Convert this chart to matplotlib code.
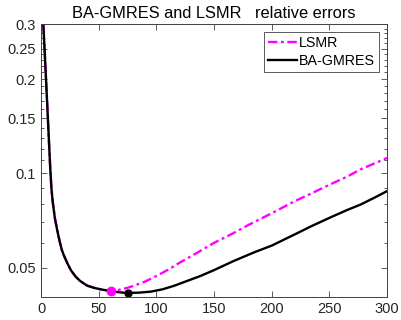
import numpy as np
import matplotlib
matplotlib.use('Agg')
import matplotlib.pyplot as plt
from matplotlib.ticker import FixedLocator, FixedFormatter, NullFormatter

plt.rcParams['font.family'] = ['Liberation Sans', 'DejaVu Sans']

# BA-GMRES relative error
gm_it = [2, 3, 4, 5, 6, 7, 8, 9, 10, 12, 14, 16, 18, 20, 23, 26, 30, 34, 40, 46,
         52, 60, 68, 75, 85, 95, 105, 115, 125, 138, 150, 167, 185, 200, 219,
         235, 250, 265, 277, 290, 300]
gm_err = [0.300, 0.253, 0.212, 0.178, 0.149, 0.124, 0.104, 0.090, 0.082, 0.072,
          0.066, 0.061, 0.057, 0.0545, 0.0515, 0.049, 0.0468, 0.0453, 0.0438,
          0.0431, 0.0426, 0.0421, 0.0417, 0.0415, 0.0416, 0.0419, 0.0426,
          0.0437, 0.0451, 0.0470, 0.0491, 0.0525, 0.0560, 0.0588, 0.0636,
          0.0680, 0.0721, 0.0763, 0.0795, 0.0840, 0.0878]

# LSMR relative error
ls_it = [2, 3, 4, 5, 6, 7, 8, 9, 10, 12, 14, 16, 18, 20, 23, 26, 30, 34, 40, 46,
         52, 56, 61, 68, 74, 80, 90, 100, 110, 120, 138, 150, 167, 180, 200,
         219, 235, 250, 265, 277, 290, 300]
ls_err = [0.300, 0.253, 0.212, 0.178, 0.149, 0.124, 0.104, 0.090, 0.082, 0.072,
          0.066, 0.061, 0.057, 0.0545, 0.0515, 0.049, 0.0468, 0.0453, 0.0438,
          0.0431, 0.0426, 0.0424, 0.0422, 0.0425, 0.0430, 0.0437, 0.0451,
          0.0470, 0.0492, 0.0518, 0.0565, 0.0600, 0.0645, 0.0685, 0.0746,
          0.0812, 0.0865, 0.0920, 0.0975, 0.1030, 0.1080, 0.1120]

yticks = [0.05, 0.1, 0.15, 0.2, 0.25, 0.3]
ytick_labels = ['0.05', '0.1', '0.15', '0.2', '0.25', '0.3']

fig = plt.figure(figsize=(4.02, 3.2), dpi=100)
ax = fig.add_axes([0.102, 0.072, 0.861, 0.853])

ax.plot(ls_it, ls_err, color='magenta', lw=1.7, linestyle=(0, (4, 1.5, 1.2, 1.5)),
        label='LSMR')
ax.plot(gm_it, gm_err, color='black', lw=1.7, label='BA-GMRES')

i = int(np.argmin(ls_err))
ax.plot(ls_it[i], ls_err[i], 'o', color='magenta', ms=6)
j = int(np.argmin(gm_err))
ax.plot(gm_it[j], gm_err[j], 'o', color='black', ms=5)

ax.set_yscale('log')
ax.set_xlim(0, 300)
ax.set_ylim(0.0403, 0.3)
ax.set_xticks([0, 50, 100, 150, 200, 250, 300])
ax.yaxis.set_major_locator(FixedLocator(yticks))
ax.yaxis.set_major_formatter(FixedFormatter(ytick_labels))
minors = [round(v, 2) for v in np.arange(0.04, 0.305, 0.01) if round(v, 2) not in yticks]
ax.yaxis.set_minor_locator(FixedLocator(minors))
ax.yaxis.set_minor_formatter(NullFormatter())
ax.xaxis.set_minor_locator(FixedLocator([]))

ax.tick_params(which='both', direction='in', top=True, right=True,
               colors='#404040', labelcolor='#262626', labelsize=10.5)
ax.tick_params(which='major', length=4, width=0.6)
ax.tick_params(which='minor', length=2.5, width=0.6)
for s in ax.spines.values():
    s.set_color('#404040')
    s.set_linewidth(0.7)

ax.set_title('BA-GMRES and LSMR   relative errors', fontsize=11.8, pad=4)
leg = ax.legend(loc='upper right', fontsize=10.3, fancybox=False, framealpha=1,
                edgecolor='#404040', handlelength=2.0, borderpad=0.3,
                labelspacing=0.25, handletextpad=0.15, borderaxespad=0.55)
leg.get_frame().set_linewidth(0.6)

fig.savefig('out.png', dpi=100)
